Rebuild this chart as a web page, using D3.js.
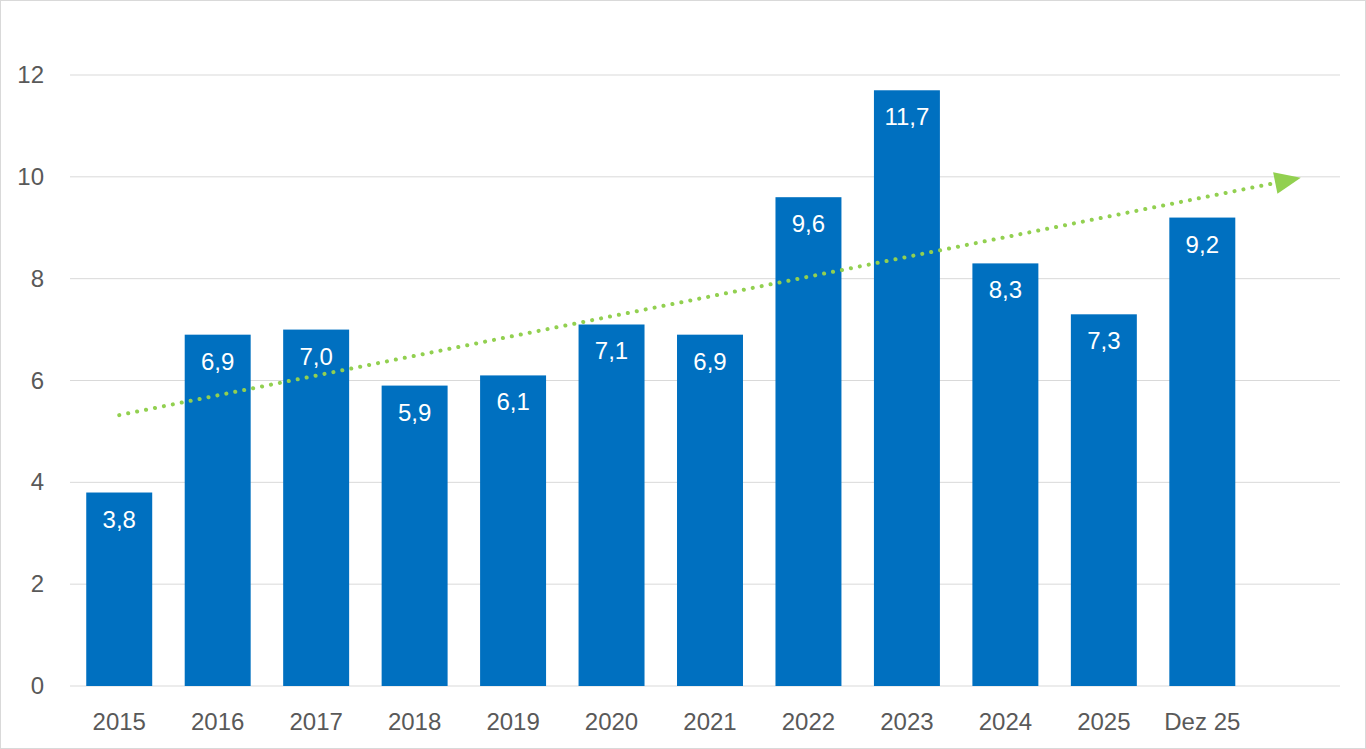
<!DOCTYPE html>
<html><head><meta charset="utf-8">
<script src="https://cdn.jsdelivr.net/npm/d3@7"></script>
<style>body{margin:0;background:#fff}svg{font-family:Arial,"Liberation Sans",sans-serif}</style>
</head><body><svg id="c" width="1366" height="749"></svg>
<script>
const categories=["2015","2016","2017","2018","2019","2020","2021","2022","2023","2024","2025","Dez 25"];
const values=[3.8,6.9,7.0,5.9,6.1,7.1,6.9,9.6,11.7,8.3,7.3,9.2];
const labels=["3,8","6,9","7,0","5,9","6,1","7,1","6,9","9,6","11,7","8,3","7,3","9,2"];
const yTicks=[0,2,4,6,8,10,12];
const trend=[{i:0,v:5.32},{i:12,v:9.98}];

const svg=d3.select("#c");
svg.append("rect").attr("x",0.5).attr("y",0.5).attr("width",1365).attr("height",748).attr("fill","none").attr("stroke","#d9d9d9");
const x=d3.scaleBand().domain(d3.range(13)).range([70,1350]).paddingInner(0.33).paddingOuter(0.165);
const y=d3.scaleLinear().domain([0,12]).range([686,75]);
svg.append("g").selectAll("line").data(yTicks).join("line")
 .attr("x1",70).attr("x2",1340).attr("y1",d=>y(d)).attr("y2",d=>y(d)).attr("stroke","#d9d9d9");
svg.append("g").selectAll("text").data(yTicks).join("text")
 .attr("x",44).attr("y",d=>y(d)+8).attr("text-anchor","end").attr("font-size",24).attr("fill","#595959").text(d=>d);
svg.append("g").selectAll("rect").data(values).join("rect")
 .attr("x",(d,i)=>x(i)).attr("width",x.bandwidth()).attr("y",d=>y(d)).attr("height",d=>y(0)-y(d)).attr("fill","#0070c0");
svg.append("g").selectAll("text").data(values).join("text")
 .attr("x",(d,i)=>x(i)+x.bandwidth()/2).attr("y",d=>y(d)+35).attr("text-anchor","middle").attr("font-size",24).attr("fill","#fff").text((d,i)=>labels[i]);
svg.append("g").selectAll("text").data(categories).join("text")
 .attr("x",(d,i)=>x(i)+x.bandwidth()/2).attr("y",730).attr("text-anchor","middle").attr("font-size",24).attr("fill","#595959").text(d=>d);
const cx=i=>x(i)+x.bandwidth()/2;
const p0=[cx(trend[0].i),y(trend[0].v)],p1=[cx(trend[1].i),y(trend[1].v)];
const ang=Math.atan2(p1[1]-p0[1],p1[0]-p0[0]);
const L=26,W=11;
const bx=p1[0]-L*Math.cos(ang),by=p1[1]-L*Math.sin(ang);
svg.append("line").attr("x1",p0[0]).attr("y1",p0[1]).attr("x2",bx).attr("y2",by)
 .attr("stroke","#92d050").attr("stroke-width",4).attr("stroke-dasharray","0.1 9").attr("stroke-linecap","round");
svg.append("path").attr("fill","#92d050").attr("d",`M${p1[0]},${p1[1]}L${bx-W*Math.sin(ang)},${by+W*Math.cos(ang)}L${bx+W*Math.sin(ang)},${by-W*Math.cos(ang)}Z`);
</script></body></html>
